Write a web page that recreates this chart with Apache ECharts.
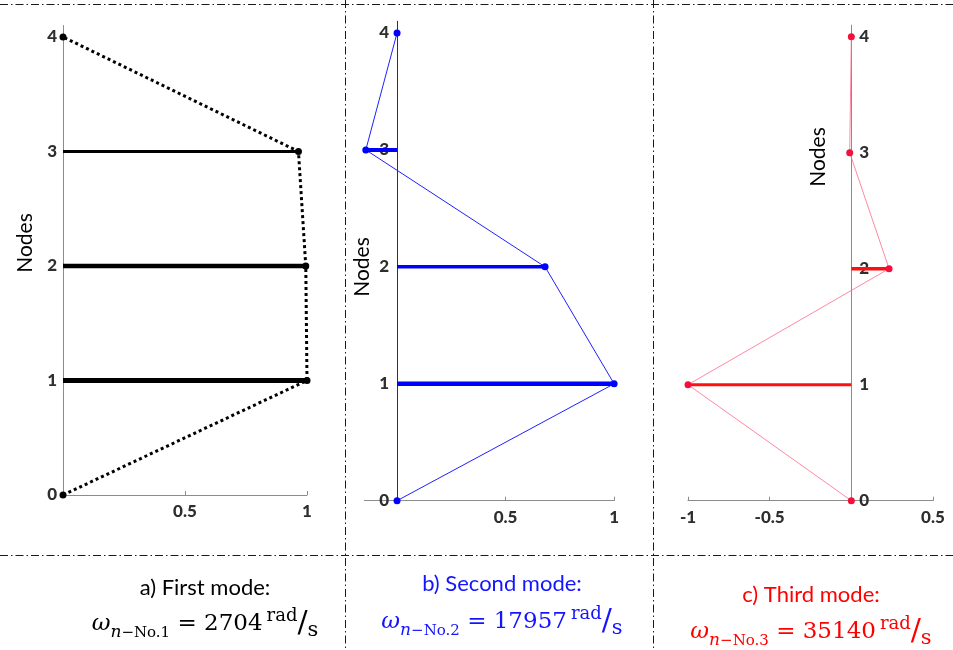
<!DOCTYPE html>
<html>
<head>
<meta charset="utf-8">
<script src="https://cdn.jsdelivr.net/npm/echarts@6/dist/echarts.min.js"></script>
<style>
  html, body { margin: 0; padding: 0; background: #fff; }
  #chart { width: 953px; height: 650px; }
</style>
</head>
<body>
<div id="chart"></div>
<script>
// Node numbers along the structure (vertical axis)
const nodes = [0, 1, 2, 3, 4];

// Normalised mode-shape amplitudes at each node
const mode1 = [0, 1.0, 0.995, 0.965, 0];
const mode2 = [0, 1.0, 0.682, -0.144, 0];
const mode3 = [0, -1.0, 0.231, -0.01, 0];

// Horizontal tick labels of each panel
const xTicks1 = [0.5, 1];
const xTicks2 = [0.5, 1];
const xTicks3 = [-1, -0.5, 0.5];

// Captions
const titles = ['a) First mode:', 'b) Second mode:', 'c) Third mode:'];
const modeNames = ['No.1', 'No.2', 'No.3'];
const frequencies = [2704, 17957, 35140];

// Panel styling
const panels = [
  { data: mode1, ticks: xTicks1, xMin: 0, xMax: 1,
    grid: { left: 63, top: 25.5, width: 244, height: 469.5 },
    color: '#000000', markerColor: '#000000', lineColor: '#000000',
    lineWidth: 3, lineType: [3, 3], symbolSize: 7,
    barWidths: [0, 5, 4.5, 3, 0],
    axisColor: '#8c8c8c', labelInside: false, labelMargin: 6,
    nodesPos: [25, 243], textColor: '#000000', caption: [205, 588, 624] },
  { data: mode2, ticks: xTicks2, xMin: -0.15, xMax: 1,
    grid: { left: 364.5, top: 21.3, width: 249.6, height: 479.4 },
    color: '#0000ff', markerColor: '#0000ff', lineColor: '#2020ff',
    lineWidth: 1, lineType: 'solid', symbolSize: 7,
    barWidths: [0, 4.5, 3.5, 4, 0],
    axisColor: '#333333', labelInside: false, labelMargin: 8,
    nodesPos: [362, 267], textColor: '#1414ff', caption: [502, 584, 622] },
  { data: mode3, ticks: xTicks3, xMin: -1, xMax: 0.5,
    grid: { left: 688, top: 25.1, width: 245, height: 475.6 },
    color: '#ff1010', markerColor: '#f5103c', lineColor: '#ff6a8c',
    lineWidth: 0.8, lineType: 'solid', symbolSize: 7,
    barWidths: [0, 3, 3.5, 2, 0],
    axisColor: '#8c8c8c', labelInside: true, labelMargin: 8,
    nodesPos: [818, 157], textColor: '#ff0000', caption: [811, 595, 632] }
];

const tickFont = { fontFamily: 'Lato', fontWeight: 900, fontSize: 17, color: '#2e2e2e' };

const grids = [], xAxes = [], yAxes = [], series = [], graphics = [];

panels.forEach((p, k) => {
  // Plot area of the panel
  grids.push(Object.assign({}, p.grid));
  xAxes.push({
    gridIndex: 2 * k, type: 'value', min: p.xMin, max: p.xMax,
    axisLine: { show: true, onZero: false, lineStyle: { color: '#8c8c8c', width: 1 } },
    axisTick: { show: true, inside: true, length: 4, customValues: p.ticks,
                lineStyle: { color: '#8c8c8c' } },
    axisLabel: Object.assign({ customValues: p.ticks, margin: 8 }, tickFont),
    splitLine: { show: false }
  });
  yAxes.push({ gridIndex: 2 * k, type: 'value', min: 0, max: 4.1, show: false });

  // Node axis standing at zero amplitude
  const zeroPx = p.grid.left + (0 - p.xMin) / (p.xMax - p.xMin) * p.grid.width;
  grids.push({ left: zeroPx, top: p.grid.top, width: 10, height: p.grid.height });
  xAxes.push({ gridIndex: 2 * k + 1, type: 'value', min: 0, max: 1, show: false });
  yAxes.push({
    gridIndex: 2 * k + 1, type: 'value', min: 0, max: 4.1, position: 'left',
    axisLine: { show: true, onZero: false, lineStyle: { color: p.axisColor, width: 1 } },
    axisTick: { show: false },
    axisLabel: Object.assign({ customValues: nodes, inside: p.labelInside,
                               margin: p.labelMargin }, tickFont),
    splitLine: { show: false }
  });

  // Horizontal amplitude bars at every node
  nodes.forEach((n, i) => {
    series.push({
      type: 'line', xAxisIndex: 2 * k, yAxisIndex: 2 * k,
      data: [[0, n], [p.data[i], n]],
      showSymbol: false, silent: true, z: 3,
      lineStyle: { color: p.color, width: p.barWidths[i], cap: 'butt' }
    });
  });

  // Deformed shape connecting the nodes
  series.push({
    type: 'line', xAxisIndex: 2 * k, yAxisIndex: 2 * k,
    data: nodes.map((n, i) => [p.data[i], n]),
    symbol: 'circle', symbolSize: p.symbolSize, z: 4,
    itemStyle: { color: p.markerColor },
    lineStyle: { color: p.lineColor, width: p.lineWidth, type: p.lineType }
  });

  // Axis title
  graphics.push({
    type: 'text', x: p.nodesPos[0], y: p.nodesPos[1], rotation: Math.PI / 2,
    style: { text: 'Nodes', fontFamily: 'Lato', fontSize: 21, fill: '#000',
             align: 'center', verticalAlign: 'middle' }
  });

  // Caption and natural frequency
  graphics.push({
    type: 'text', x: p.caption[0], y: p.caption[1],
    style: { text: titles[k], fontFamily: 'Lato', fontSize: 22, fill: p.textColor,
             align: 'center', verticalAlign: 'middle' }
  });
  const serif = 'DejaVu Serif';
  const c = p.textColor;
  graphics.push({
    type: 'text', x: p.caption[0], y: p.caption[2],
    style: {
      text: '{w|ω}{si|n}{su|−' + modeNames[k] + '}{m| = ' + frequencies[k] + '}{sp|rad}{sl|/}{ss|s}',
      align: 'center', verticalAlign: 'middle', fill: c,
      rich: {
        w:  { fontFamily: serif, fontStyle: 'italic', fontSize: 23, lineHeight: 34, verticalAlign: 'middle', fill: c },
        si: { fontFamily: serif, fontStyle: 'italic', fontSize: 17, lineHeight: 14, verticalAlign: 'bottom', fill: c },
        su: { fontFamily: serif, fontSize: 15, lineHeight: 14, verticalAlign: 'bottom', fill: c },
        m:  { fontFamily: serif, fontSize: 23, lineHeight: 34, verticalAlign: 'middle', fill: c },
        sp: { fontFamily: serif, fontSize: 18, lineHeight: 18, verticalAlign: 'top', fill: c, padding: [0, 0, 0, 4] },
        sl: { fontFamily: serif, fontSize: 30, lineHeight: 34, verticalAlign: 'middle', fill: c },
        ss: { fontFamily: serif, fontSize: 21, lineHeight: 22, verticalAlign: 'bottom', fill: c }
      }
    }
  });
});

// Dash-dot panel separators
const sepStyle = { stroke: '#1a1a1a', lineWidth: 1, lineDash: [8, 3, 1.5, 3] };
graphics.push(
  { type: 'line', shape: { x1: 0, y1: 4.5, x2: 953, y2: 4.5 }, style: sepStyle, silent: true },
  { type: 'line', shape: { x1: 0, y1: 555.5, x2: 953, y2: 555.5 }, style: sepStyle, silent: true },
  { type: 'line', shape: { x1: 345.5, y1: 0, x2: 345.5, y2: 650 }, style: sepStyle, silent: true },
  { type: 'line', shape: { x1: 653.5, y1: 0, x2: 653.5, y2: 650 }, style: sepStyle, silent: true }
);

const chart = echarts.init(document.getElementById('chart'), null, { renderer: 'canvas' });
chart.setOption({
  animation: false,
  backgroundColor: '#ffffff',
  grid: grids,
  xAxis: xAxes,
  yAxis: yAxes,
  series: series,
  graphic: graphics
});
</script>
</body>
</html>
